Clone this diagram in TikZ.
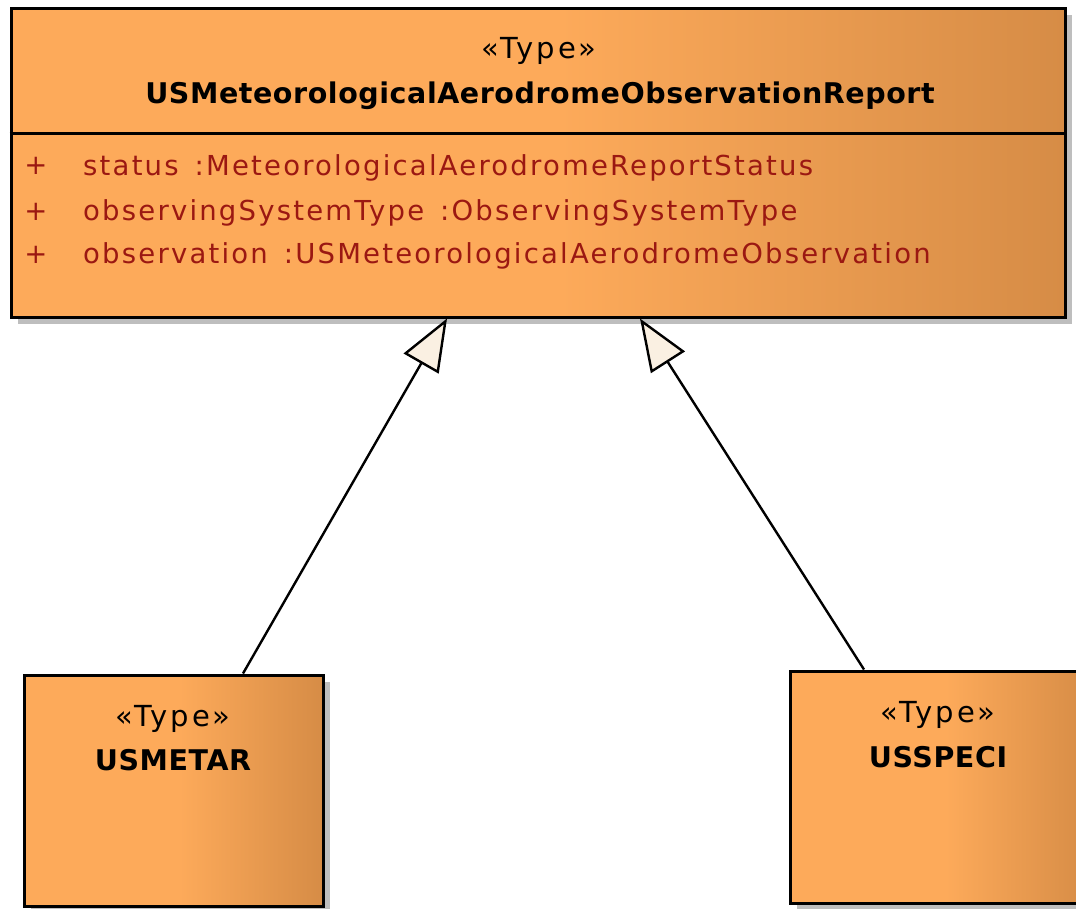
\documentclass[tikz,border=0pt]{standalone}
\usepackage{fontspec}
\setmainfont{DejaVu Sans}
\newfontfamily\stfont[LetterSpace=10]{DejaVu Sans}
\newfontfamily\atfont[LetterSpace=8]{DejaVu Sans}
\newfontfamily\cnfont[LetterSpace=2]{DejaVu Sans}
\usetikzlibrary{arrows.meta,shadows}
\definecolor{lightor}{RGB}{253,170,90}
\definecolor{darkor}{RGB}{214,140,70}
\definecolor{attr}{RGB}{155,24,18}
\definecolor{cream}{RGB}{250,240,226}
\definecolor{shadowgray}{RGB}{190,190,190}
\pgfdeclarehorizontalshading{boxshade}{100bp}{color(0bp)=(lightor); color(25bp)=(lightor); color(51bp)=(lightor); color(75bp)=(darkor); color(100bp)=(darkor)}
\tikzset{
  umlbox/.style={draw=black, line width=3pt, shading=boxshade, inner sep=0pt,
    drop shadow={shadow xshift=7pt, shadow yshift=-7pt, fill=shadowgray, opacity=1}},
  stereo/.style={font=\stfont\fontsize{29}{34}\selectfont, text=black, inner sep=0pt},
  cname/.style={font=\cnfont\fontsize{28.5}{34}\selectfont\bfseries, text=black, inner sep=0pt},
  attrtext/.style={font=\atfont\fontsize{27.5}{32}\selectfont, text=attr, inner sep=0pt, anchor=west},
  plus/.style={font=\fontsize{27.5}{32}\selectfont, text=attr, inner sep=0pt},
  gen/.style={draw=black, line width=2.4pt, -{Triangle[open, fill=cream, length=52pt, width=40pt, line width=2.4pt]}}
}
\begin{document}
\begin{tikzpicture}[x=1pt,y=-1pt]
\useasboundingbox (0,0) rectangle (1076,908);
% main class
\node[umlbox, minimum width=1054pt, minimum height=309pt] (main) at (538,162.5) {};
\draw[line width=3pt] (main.west |- 0,133) coordinate (dl) -- (main.east |- 0,133) coordinate (dr);
\node[stereo] (mst) at (539,51) {«Type»};
\node[cname] (mname) at (540,96) {USMeteorologicalAerodromeObservationReport};
\node[plus] (p1) at (36,166) {+};
\node[plus] (p2) at (36,212) {+};
\node[plus] (p3) at (36,255) {+};
\node[attrtext] (a1) at (83,168) {status\hspace{16pt}:MeteorologicalAerodromeReportStatus};
\node[attrtext] (a2) at (83,213) {observingSystemType\hspace{16pt}:ObservingSystemType};
\node[attrtext] (a3) at (83,256) {observation\hspace{16pt}:USMeteorologicalAerodromeObservation};
% subclasses
\node[umlbox, minimum width=299pt, minimum height=231pt] (usmetar) at (173.5,790.5) {};
\node[stereo] (lst) at (173,719) {«Type»};
\node[cname] (lname) at (173,760) {USMETAR};
\node[umlbox, minimum width=300pt, minimum height=232pt] (usspeci) at (940,787) {};
\node[stereo] (rst) at (938,715) {«Type»};
\node[cname] (rname) at (938,757) {USSPECI};
% generalizations
\draw[gen] ([xshift=69.5pt]usmetar.north) -- ([xshift=-91pt]main.south);
\draw[gen] ([xshift=-76pt]usspeci.north) -- ([xshift=102pt]main.south);
\end{tikzpicture}
\end{document}
